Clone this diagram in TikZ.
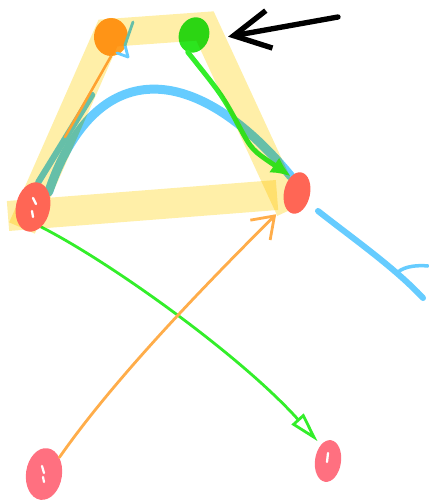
\documentclass[tikz,border=0pt]{standalone}
\usepackage{tikz}
\usetikzlibrary{shapes.geometric, arrows.meta}
\usepackage{xcolor}
\definecolor{hlyellow}{HTML}{FFEFA8}
\definecolor{dotorange}{HTML}{FF9E22}
\definecolor{dotgreen}{HTML}{2CE41E}
\definecolor{dotred}{HTML}{FF6655}
\definecolor{dotpink}{HTML}{FF7080}
\definecolor{penblue}{HTML}{66CCFF}
\definecolor{penorange}{HTML}{FFAD4A}
\definecolor{pengreen}{HTML}{33EE2A}

\begin{document}
\begin{tikzpicture}[x=0.025cm, y=-0.025cm, line cap=round, line join=round,
    dot/.style={ellipse, inner sep=0pt, draw=none}]
    \useasboundingbox (0,0) rectangle (428,503);

    % dots
    \node[dot, fill=dotorange, minimum width=0.85cm, minimum height=0.95cm] (orange) at (111,37) {};
    \node[dot, fill=dotgreen, minimum width=0.75cm, minimum height=0.9cm, rotate=-20] (green) at (194,35) {};
    \node[dot, minimum width=0.85cm, minimum height=1.25cm, rotate=-12] (redleft) at (33,207) {};
    \node[dot, minimum width=0.65cm, minimum height=1.05cm, rotate=-12] (redright) at (297,193) {};
    \node[dot, fill=dotpink, minimum width=0.9cm, minimum height=1.3cm, rotate=-8] (pinkleft) at (44,474) {};
    \node[dot, fill=dotpink, minimum width=0.65cm, minimum height=1.05cm, rotate=-8] (pinkright) at (328,461) {};
    \draw[white, line width=1.6pt] ([shift={(-2,-8)}]pinkleft.center) -- ++(2,7);
    \draw[white, line width=1.6pt] ([shift={(-1,3)}]pinkleft.center) -- ++(1,5);
    \draw[white, line width=1.6pt] ([shift={(0,-8)}]pinkright.center) -- ++(-1,9);

    % free ends
    \coordinate (orangeend) at (65,137);
    \coordinate (blackstart) at (338,17);
    \coordinate (bluestart) at (318,211);
    \coordinate (blueend) at (423,298);

    % connectors
    \draw[penblue, line width=6.4pt] (redleft.north east) .. controls (95,55) and (195,60) .. (redright.north west);
    \draw[penblue, line width=4.5pt] (redleft.north) -- (92,95);
    \draw[penblue, line width=2pt] (133,22) -- (125,45) -- (128,57) -- (117,53);
    \draw[penorange, line width=1.8pt] (orange.south) -- (orangeend);
    \draw[pengreen, line width=3.5pt, -{Latex[length=0.5cm, width=0.45cm]}]
        (green.south) .. controls (222,95) .. (240,128) .. controls (252,150) .. (redright.north west);
    \draw[pengreen, line width=2pt, shorten >=0.12cm, -{Triangle[open, length=0.75cm, width=0.4cm]}]
        (redleft.south east) .. controls (110,262) and (240,355) .. (pinkright.north west);
    \draw[penorange, line width=2pt, shorten >=0.3cm, -{Straight Barb[length=0.5cm, width=0.7cm]}]
        (pinkleft.north east) .. controls (110,385) and (190,300) .. (redright.south west);
    \draw[penblue, line width=4.3pt] (bluestart) .. controls (355,240) and (395,268) .. (blueend);
    \draw[penblue, line width=2.5pt] (398,272) .. controls (405,266) and (418,265) .. (428,266);
    \draw[black, line width=3.8pt, shorten >=0.5cm, -{Straight Barb[length=0.9cm, width=0.95cm]}]
        (blackstart) -- (green.east);

    % highlighter
    \begin{scope}[blend mode=multiply]
        \draw[hlyellow, line width=0.7cm, line cap=butt, line join=miter] (22,228) -- (108,33) -- (205,26) -- (290,210);
        \draw[hlyellow, line width=0.75cm, line cap=butt] (8,216) -- (277,195);
    \end{scope}

    % red dots on top
    \fill[dotred, rotate around={-12:(redleft.center)}] (redleft.center) ellipse [x radius=17, y radius=25];
    \fill[dotred, rotate around={-12:(redright.center)}] (redright.center) ellipse [x radius=13, y radius=21];
    \draw[white, line width=1.6pt] ([shift={(0,-9)}]redleft.center) -- ++(3,6);
    \draw[white, line width=1.6pt] ([shift={(-1,4)}]redleft.center) -- ++(1,6);
\end{tikzpicture}
\end{document}
